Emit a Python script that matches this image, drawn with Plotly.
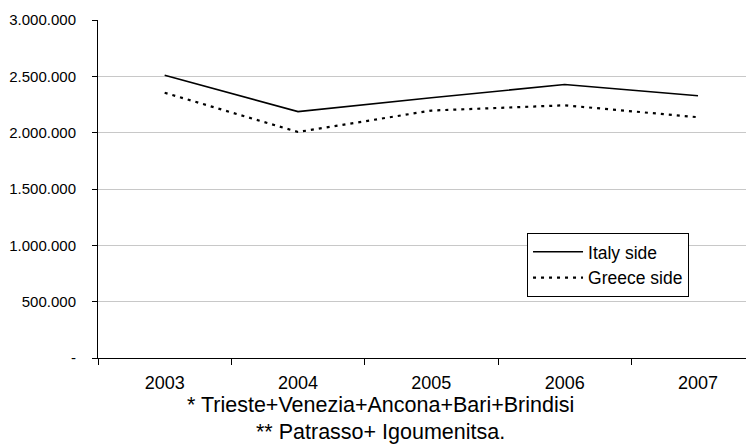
import plotly.graph_objects as go

years = ["2003", "2004", "2005", "2006", "2007"]
italy_side = [2510000, 2187000, 2310000, 2427000, 2327000]
greece_side = [2354000, 2006000, 2196000, 2243000, 2137000]
y_tick_vals = [0, 500000, 1000000, 1500000, 2000000, 2500000, 3000000]
y_tick_text = ["-", "500.000", "1.000.000", "1.500.000", "2.000.000", "2.500.000", "3.000.000"]
footnotes = ["* Trieste+Venezia+Ancona+Bari+Brindisi", "** Patrasso+ Igoumenitsa."]

FONT = "Liberation Sans, Arial, sans-serif"

fig = go.Figure()
fig.add_trace(go.Scatter(x=years, y=italy_side, mode="lines", name="Italy side",
                         line=dict(color="black", width=1.6)))
fig.add_trace(go.Scatter(x=years, y=greece_side, mode="lines", name="Greece side",
                         line=dict(color="black", width=2.2, dash="3px,5px")))

fig.update_layout(
    width=754, height=445,
    margin=dict(l=90, r=8, t=12, b=95),
    paper_bgcolor="white", plot_bgcolor="white",
    font=dict(family=FONT, color="black", size=17),
    showlegend=True,
    legend=dict(x=0.654, y=0.37, xanchor="left", yanchor="top",
                bordercolor="black", borderwidth=1, bgcolor="white",
                font=dict(family=FONT, size=17.5, color="black"),
                itemwidth=50, tracegroupgap=0),
)
fig.update_xaxes(type="category", range=[-0.5, 4.42], showline=True, linecolor="black",
                 linewidth=1, ticks="outside", tickson="boundaries", ticklen=6,
                 tickcolor="black", showgrid=False, automargin=False,
                 tickfont=dict(family=FONT, size=18), ticklabelstandoff=8)
fig.update_yaxes(range=[0, 3000000], tickvals=y_tick_vals, ticktext=y_tick_text,
                 showline=True, linecolor="black", linewidth=1, ticks="outside",
                 ticklen=5, tickcolor="black", showgrid=True, gridcolor="#c8c8c8",
                 gridwidth=1, zeroline=False, automargin=False,
                 tickfont=dict(family=FONT, size=15), ticklabelstandoff=13)

fig.add_annotation(text=footnotes[0], xref="paper", yref="paper", x=0.43, y=-0.14,
                   xanchor="center", yanchor="middle", showarrow=False,
                   font=dict(family=FONT, size=21.5, color="black"))
fig.add_annotation(text=footnotes[1], xref="paper", yref="paper", x=0.43, y=-0.219,
                   xanchor="center", yanchor="middle", showarrow=False,
                   font=dict(family=FONT, size=21.5, color="black"))

fig.write_html("out.html")
